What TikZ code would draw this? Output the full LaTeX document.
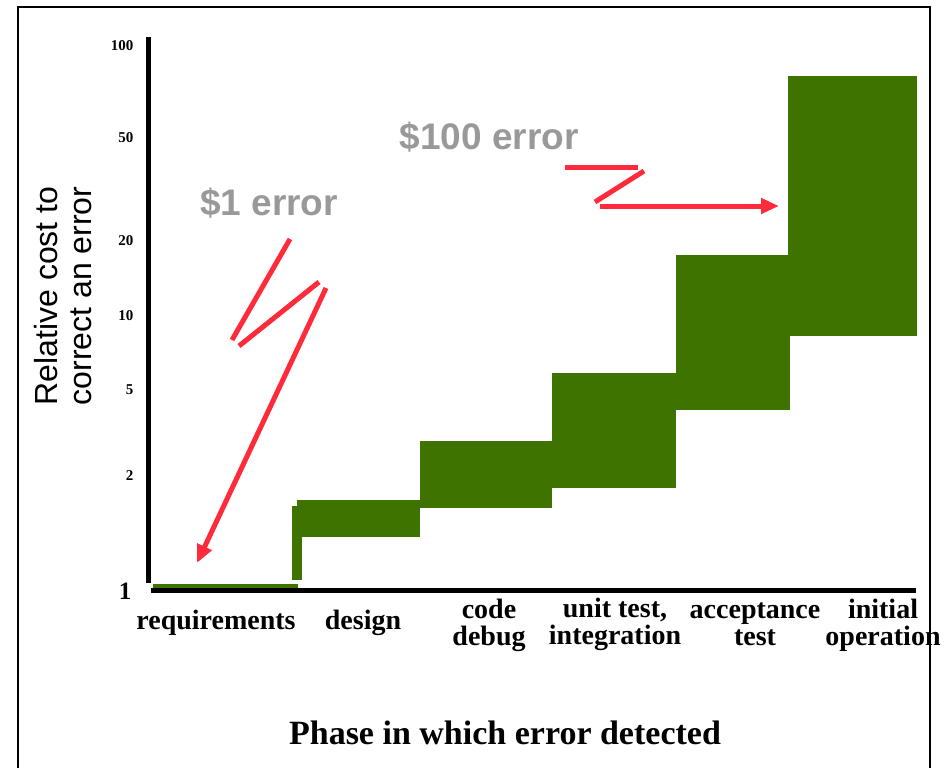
\documentclass[tikz,border=0pt]{standalone}
\usepackage{fontspec}
\setmainfont{Liberation Serif}
\setsansfont{Liberation Sans}
\usetikzlibrary{arrows.meta}
\definecolor{bargreen}{HTML}{3F7300}
\definecolor{boltred}{HTML}{FF2B3B}
\definecolor{costgray}{HTML}{999999}
\tikzset{bar/.style={fill=bargreen}}
\tikzset{bolt/.style={boltred,line width=5pt}}
\tikzset{phase/.style={font=\bfseries\fontsize{28}{27}\selectfont,align=center}}
\tikzset{tick/.style={font=\bfseries\fontsize{15}{15}\selectfont,anchor=east}}
\tikzset{cost/.style={font=\sffamily\bfseries\fontsize{37}{37}\selectfont,text=costgray}}

\begin{document}
\begin{tikzpicture}[x=1pt,y=-1pt]
\useasboundingbox (0,0) rectangle (952,768);
% frame, open at the bottom
\draw[line width=2.5pt] (18,768) -- (18,7) -- (930,7) -- (930,768);
%
\fill[bar] (153,584) rectangle (298,589);
\fill[bar] (292,506) rectangle (302,580);
\fill[bar] (297,500) rectangle (420,537);
\fill[bar] (420,441) rectangle (552,508);
\fill[bar] (552,373) rectangle (676,488);
\fill[bar] (676,255) rectangle (790,410);
\fill[bar] (788,76) rectangle (917,336);
% axes
\coordinate (ytop) at (148.5,37);
\coordinate (ybot) at (148.5,583);
\coordinate (xbeg) at (151,590);
\coordinate (xend) at (916,590);
\draw[line width=5pt] (ytop) -- (ybot);
\draw[line width=5pt] (xbeg) -- (xend);
%
\foreach \v/\y in {100/46,50/138,20/241,10/316,5/390,2/476}
  \node[tick] (t\v) at (137,\y) {\v};
\node (t1) [font=\bfseries\fontsize{25}{25}\selectfont,anchor=east] at (135,591) {1};
\node (ylab) [rotate=90,font=\sffamily\fontsize{32}{34}\selectfont,align=center] at (63,296) {Relative cost to\\correct an error};
%
\node[phase] (req) at (216,623) {requirements};
\node[phase] (des) at (363,623) {design};
\node[phase] (code) at (489,625) {code\\debug};
\node[phase] (unit) at (615,624) {unit test,\\integration};
\node[phase] (acc) at (755,624) {acceptance\\test};
\node[phase] (ops) at (883,625) {initial\\operation};
\node (title) [font=\bfseries\fontsize{34}{34}\selectfont] at (505,733) {Phase in which error detected};
%
\node[cost] (c1) at (269,203) {\$1 error};
\node[cost] (c100) at (489,137) {\$100 error};
% lightning bolts
\coordinate (a1) at (290,239);
\coordinate (a2) at (232,340);
\coordinate (a3) at (319,282);
\coordinate (a4) at (239,346);
\coordinate (a5) at (326,288);
\coordinate (a6) at (197,563);
\draw[bolt] (a1) -- (a2);
\draw[bolt] (a3) -- (a4);
\draw[bolt,-{Triangle[length=18pt,width=15pt]}] (a5) -- (a6);
\coordinate (b1) at (565,167);
\coordinate (b2) at (638,167);
\coordinate (b3) at (644,171);
\coordinate (b4) at (595,202);
\coordinate (b5) at (600,206);
\coordinate (b6) at (779,206);
\draw[bolt] (b1) -- (b2);
\draw[bolt] (b3) -- (b4);
\draw[bolt,-{Triangle[length=18pt,width=15pt]}] (b5) -- (b6);
\end{tikzpicture}
\end{document}
